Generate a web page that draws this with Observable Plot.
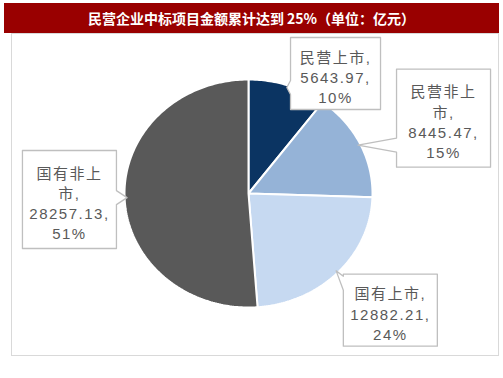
<!DOCTYPE html>
<html><head><meta charset="utf-8">
<script src="https://cdn.jsdelivr.net/npm/d3@7"></script>
<script src="https://cdn.jsdelivr.net/npm/@observablehq/plot@0.6"></script>
<style>
body{margin:0;background:#fff;width:503px;height:378px;position:relative;overflow:hidden}
#title{position:absolute;left:4px;top:3px;width:495px;height:30px;background:#990000;color:#fff;font:bold 14px "Noto Sans CJK SC",sans-serif;line-height:30px;text-align:center}
#panel{position:absolute;left:11px;top:33px;width:486px;height:321px;border:1px solid #d9d9d9}
#panel svg{display:block}
#panel svg text{letter-spacing:1.5px}
</style></head><body>
<div id="title">民营企业中标项目金额累计达到 25%（单位：亿元）</div>
<div id="panel"></div>
<script>
// ---- data ----
const categories = ["民营上市", "民营非上市", "国有上市", "国有非上市"];
const values = [5643.97, 8445.47, 12882.21, 28257.13];
const valueLabels = ["5643.97", "8445.47", "12882.21", "28257.13"];
const percents = [10, 15, 24, 51];

// ---- styles / layout ----
const colors = ["#0b3462", "#95b3d7", "#c6d9f1", "#595959"];
const W = 486, H = 321;
const CX = 236, CY = 159, RX = 124, RY = 114;      // pie centre & radii in px
const calloutLayout = [                             // angle nudge (deg) & distance (radii)
  {nudge: 15.3, dist: 1.265, w: 90},
  {nudge: 2.9, dist: 1.706, w: 94},
  {nudge: -2, dist: 1.535, w: 94},
  {nudge: 0, dist: 1.445, w: 94}
];

const rows = categories.map((c, i) => ({name: c, value: values[i], vlabel: valueLabels[i], pct: percents[i]}));
const arcs = d3.pie().sort(null).value(d => d.value)(rows);

// slice polygons in data units (x = sin, y = cos)
const slicePts = [];
arcs.forEach(a => {
  const n = Math.max(2, Math.ceil((a.endAngle - a.startAngle) / (Math.PI / 180)));
  slicePts.push({name: a.data.name, x: 0, y: 0});
  for (let k = 0; k <= n; k++) {
    const t = a.startAngle + (a.endAngle - a.startAngle) * k / n;
    slicePts.push({name: a.data.name, x: Math.sin(t), y: Math.cos(t)});
  }
  slicePts.push({name: a.data.name, x: 0, y: 0});
});

// labels + callout boxes
const labels = [];
const calloutPts = [];
arcs.forEach((a, i) => {
  const d = a.data, L = calloutLayout[i];
  const mid = (a.startAngle + a.endAngle) / 2;
  const la = mid + L.nudge * Math.PI / 180;
  const lx = L.dist * Math.sin(la), ly = L.dist * Math.cos(la);
  const nameLine = d.name.length > 4 ? d.name.slice(0, 4) + "\n" + d.name.slice(4) + "," : d.name + ",";
  const text = nameLine + "\n" + d.vlabel + ",\n" + d.pct + "%";
  const nLines = text.split("\n").length;
  labels.push({x: lx, y: ly, text});
  // box in px relative to pie centre (screen: y down)
  const bx = lx * RX, by = -ly * RY;
  const hw = L.w / 2, hh = (26 * nLines - 6) / 2;
  const x0 = bx - hw, x1 = bx + hw, y0 = by - hh, y1 = by + hh;
  const tx = 0.98 * Math.sin(mid) * RX, ty = -0.98 * Math.cos(mid) * RY;
  const clamp = (v, lo, hi) => Math.max(lo, Math.min(hi, v));
  let poly;
  if (tx < x0) {
    const c = clamp(ty, y0 + 9, y1 - 9);
    poly = [[x0, y0], [x1, y0], [x1, y1], [x0, y1], [x0, c + 7], [tx, ty], [x0, c - 7], [x0, y0]];
  } else if (tx > x1) {
    const c = clamp(ty, y0 + 9, y1 - 9);
    poly = [[x0, y0], [x1, y0], [x1, c - 7], [tx, ty], [x1, c + 7], [x1, y1], [x0, y1], [x0, y0]];
  } else if (ty < y0) {
    const c = clamp(tx, x0 + 9, x1 - 9);
    poly = [[x0, y0], [c - 7, y0], [tx, ty], [c + 7, y0], [x1, y0], [x1, y1], [x0, y1], [x0, y0]];
  } else {
    const c = clamp(tx, x0 + 9, x1 - 9);
    poly = [[x0, y0], [x1, y0], [x1, y1], [c + 7, y1], [tx, ty], [c - 7, y1], [x0, y1], [x0, y0]];
  }
  poly.forEach(([px, py]) => calloutPts.push({id: i, x: px / RX, y: -py / RY}));
});

const chart = Plot.plot({
  width: W, height: H, margin: 0,
  x: {domain: [-1, 1], range: [CX - RX, CX + RX], axis: null},
  y: {domain: [-1, 1], range: [CY + RY, CY - RY], axis: null},
  color: {domain: categories, range: colors},
  style: {background: "#fff"},
  marks: [
    Plot.line(slicePts, {x: "x", y: "y", z: "name", fill: "name", stroke: "#fff", strokeWidth: 2, strokeLinejoin: "miter", curve: "linear"}),
    Plot.line(calloutPts, {x: "x", y: "y", z: "id", fill: "#fff", stroke: "#bfbfbf", strokeWidth: 1.3, curve: "linear"}),
    Plot.text(labels, {x: "x", y: "y", text: "text", fill: "#595959", fontSize: 15, lineHeight: 1.35, dy: 3,
      fontFamily: "'Liberation Sans', 'Noto Sans CJK SC', sans-serif"})
  ]
});
document.getElementById("panel").appendChild(chart);
</script>
</body></html>
